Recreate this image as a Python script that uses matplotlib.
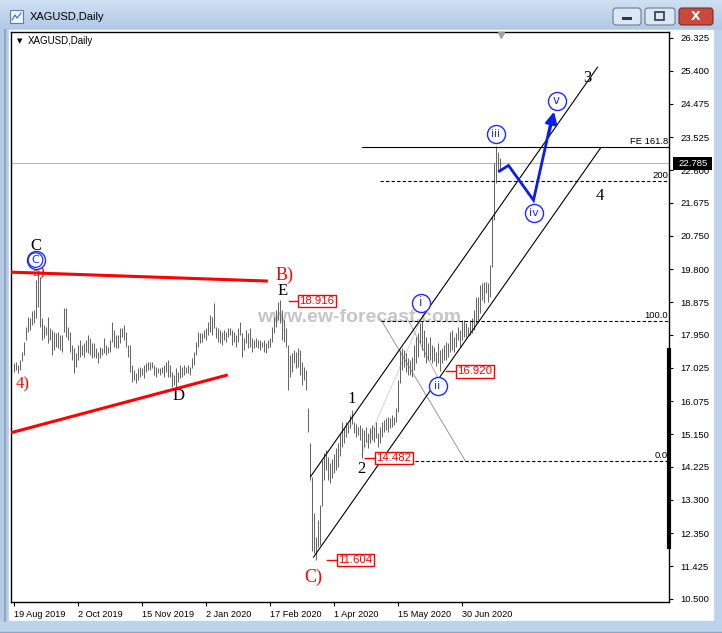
import matplotlib
matplotlib.use('Agg')
import matplotlib.pyplot as plt
import matplotlib.transforms as mtransforms
from matplotlib.patches import Rectangle, FancyBboxPatch
from matplotlib.colors import LinearSegmentedColormap
import numpy as np

# ---------------- data ----------------
date_labels = ['19 Aug 2019', '2 Oct 2019', '15 Nov 2019', '2 Jan 2020',
               '17 Feb 2020', '1 Apr 2020', '15 May 2020', '30 Jun 2020']
date_bar_index = [0, 32, 64, 96, 128, 160, 192, 224]

highs = [17.15, 17.19, 17.10, 17.24,
         17.48, 17.76, 18.18, 18.46, 18.42, 18.61, 18.65, 19.50, 19.69, 19.59,
         18.42, 18.23, 18.18, 18.46, 18.14, 18.09, 18.04, 17.99, 18.04, 17.95,
         17.95, 18.70, 18.70, 18.18, 18.04, 17.66, 17.57, 17.43, 17.66, 17.81,
         17.66, 17.71, 17.81, 17.95,
         17.85, 17.71, 17.71, 17.57, 17.48, 17.62, 17.57, 17.85, 17.66, 17.62,
         17.81, 18.32, 18.09, 17.95, 17.95, 18.14, 18.14, 18.23, 18.04, 17.66,
         17.66, 17.10, 16.96, 16.87, 17.01, 17.05, 17.01, 17.10, 17.15, 17.19,
         17.19, 17.19, 17.10, 17.05, 17.01, 17.01, 17.05, 17.10, 17.19, 17.24,
         17.10,
         16.91, 16.82, 17.01, 16.91, 17.10, 17.05, 17.10, 17.05, 17.10, 17.05,
         17.29, 17.48, 17.76, 18.04, 17.99, 17.99, 18.09, 18.14, 18.32, 18.51,
         18.46, 18.84, 18.18, 18.14, 18.09, 18.04, 18.09, 18.04, 18.14, 18.14,
         18.09, 18.04, 17.95, 18.14, 18.32, 17.99, 17.85, 18.09, 17.99, 18.14,
         17.85, 17.81, 17.85, 17.81, 17.81, 17.76, 17.81, 17.71, 17.81, 17.85,
         18.18, 18.46, 18.65, 18.89, 18.92, 18.65, 18.37, 18.14, 17.66, 17.38,
         17.43, 17.52, 17.48, 17.57, 17.52, 17.19, 17.05, 16.96, 15.88, 14.89,
         13.95, 12.92, 12.26, 12.73, 13.15, 14.42, 14.61, 14.70, 14.51, 14.33,
         14.45, 14.60,
         14.75, 14.89, 15.17, 15.50, 15.36, 15.50, 15.45, 15.69, 15.83, 15.50,
         15.45, 15.36, 15.41, 15.31, 15.27, 15.36, 15.17, 15.31, 15.41, 15.36,
         15.50, 15.17, 15.36, 15.50, 15.55, 15.60, 15.64, 15.60, 15.69, 15.64,
         15.88, 16.68, 17.52, 17.57, 17.52, 17.43, 17.29, 17.24,
         17.34, 17.67, 17.90, 17.99, 18.28, 18.35, 18.09, 17.90, 17.71, 17.90,
         17.67, 17.62, 17.48, 17.71, 17.53, 17.57, 17.67, 17.76, 17.71, 18.04,
         18.09, 17.90, 17.99, 18.18, 18.09, 18.37, 18.37, 18.28, 18.18, 18.37,
         18.42, 18.65, 19.03, 19.03, 19.36, 19.40, 19.45, 19.45, 19.40, 19.92,
         21.29, 22.79, 23.28, 23.12, 22.93]

lows = [16.91, 16.96, 16.87, 16.96,
        17.20, 17.38, 17.81, 18.04, 18.09, 18.23, 18.28, 18.42, 18.75, 18.18,
        17.81, 17.85, 17.95, 17.71, 17.81, 17.38, 17.52, 17.62, 17.57, 17.52,
        17.48, 18.04, 17.90, 17.81, 17.48, 17.24, 16.87, 17.05, 17.24, 17.34,
        17.38, 17.34, 17.48, 17.43,
        17.38, 17.29, 17.34, 17.29, 17.15, 17.29, 17.38, 17.43, 17.38, 17.43,
        17.48, 17.76, 17.62, 17.57, 17.57, 17.71, 17.90, 17.81, 17.62, 17.34,
        16.91, 16.63, 16.68, 16.58, 16.68, 16.77, 16.82, 16.72, 16.91, 16.96,
        16.96, 17.01, 16.82, 16.77, 16.87, 16.82, 16.87, 16.77, 16.91, 16.77,
        16.77,
        16.49, 16.54, 16.49, 16.63, 16.72, 16.77, 16.82, 16.87, 16.87, 16.82,
        17.01, 17.10, 17.38, 17.62, 17.71, 17.76, 17.85, 17.81, 17.95, 18.04,
        17.95, 18.14, 17.85, 17.76, 17.71, 17.66, 17.81, 17.76, 17.90, 17.95,
        17.66, 17.76, 17.62, 17.76, 17.95, 17.34, 17.52, 17.71, 17.57, 17.62,
        17.48, 17.57, 17.62, 17.57, 17.52, 17.62, 17.48, 17.43, 17.57, 17.62,
        17.76, 17.99, 18.18, 18.37, 18.28, 17.81, 17.76, 17.62, 16.40, 16.77,
        16.91, 17.15, 17.01, 17.05, 16.82, 16.54, 16.68, 16.40, 15.22, 13.86,
        11.84, 11.79, 11.60, 11.98, 12.02, 13.11, 13.86, 14.14, 13.86, 13.77,
        13.90, 14.05,
        14.14, 14.23, 14.52, 14.80, 14.89, 15.08, 15.17, 15.31, 15.45, 15.17,
        15.08, 15.13, 14.99, 14.48, 14.80, 14.94, 14.75, 14.89, 14.99, 14.94,
        15.03, 14.80, 14.89, 15.08, 15.22, 15.27, 15.22, 15.31, 15.36, 15.41,
        15.50, 15.78, 16.58, 16.96, 17.05, 16.91, 16.82, 16.82,
        16.77, 16.96, 17.15, 17.34, 17.71, 17.53, 17.34, 17.15, 17.24, 17.24,
        17.15, 17.20, 17.06, 17.15, 16.92, 17.15, 17.24, 17.24, 17.34, 17.48,
        17.53, 17.48, 17.62, 17.81, 17.62, 17.81, 17.90, 17.90, 17.95, 17.95,
        17.99, 18.09, 18.28, 18.37, 18.56, 18.93, 18.84, 19.12, 18.89, 19.03,
        19.87, 21.19, 22.23, 22.55, 22.60]

last_price = 22.785
price_ticks = [26.325, 25.400, 24.475, 23.525, 22.600, 21.675, 20.750, 19.800,
               18.875, 17.950, 17.025, 16.075, 15.150, 14.225, 13.300, 12.350,
               11.425, 10.500]
fib_names = ['FE 161.8', '200', '100.0', '0.0']
fib_prices = [23.25, 22.29, 18.35, 14.40]
fib_start = [174, 183, 183.5, 181]
marked_lows_highs = [18.916, 11.604, 14.482, 16.920]

# ---------------- figure / window chrome ----------------
W, H = 722, 633
fig = plt.figure(figsize=(W / 100, H / 100), dpi=100)
fig.patch.set_facecolor('#bcd3ec')

bg = fig.add_axes([0, 0, 1, 1], zorder=-10)
grad = np.linspace(0, 1, 64)[:, None]
cm = LinearSegmentedColormap.from_list('t', ['#cfe0f3', '#b0c9e6'])
bg.imshow(grad, extent=[0, W, 30, 0], cmap=cm, aspect='auto')
bg.add_patch(Rectangle((0, 30), W, H - 30, color='#bcd3ec'))
bg.add_patch(Rectangle((0, 30), 9, H - 30, color='#b4cbe6'))
bg.plot([4.5, 4.5], [30, 621], color='#8fa6c4', lw=1.5)
bg.add_patch(Rectangle((9, 30), 704, 591, color='white'))
bg.add_patch(Rectangle((0, 621), W, 12, color='#bcd3ec'))
bg.plot([0, W], [632, 632], color='#8fa6c4', lw=1)
# icon
bg.add_patch(Rectangle((10, 10), 13, 13, fc='#eef4fb', ec='#5b80ad', lw=0.8))
bg.plot([12, 15, 17, 21], [20, 15, 18, 13], color='#3a6fb0', lw=0.8)
bg.text(30, 17, 'XAGUSD,Daily', fontsize=8, family='Liberation Sans', va='center', ha='left', color='black')
# buttons
bg.add_patch(FancyBboxPatch((613, 8), 28, 17, boxstyle='round,pad=0,rounding_size=3',
                            fc='#dce7f4', ec='#6d7d92', lw=0.8))
bg.add_patch(Rectangle((622, 17), 10, 2.5, fc='#2b3a4c', ec='none'))
bg.add_patch(FancyBboxPatch((645, 8), 30, 17, boxstyle='round,pad=0,rounding_size=3',
                            fc='#dce7f4', ec='#6d7d92', lw=0.8))
bg.add_patch(Rectangle((655, 12), 9, 8, fc='none', ec='#2b3a4c', lw=1.2))
bg.add_patch(FancyBboxPatch((679, 8), 34, 17, boxstyle='round,pad=0,rounding_size=3',
                            fc='#c9493d', ec='#7d2a22', lw=0.8))
bg.text(696, 16.5, 'X', fontsize=9, fontweight='bold', color='white', ha='center', va='center',
        family='DejaVu Sans')
bg.set_xlim(0, W)
bg.set_ylim(H, 0)
bg.axis('off')

# ---------------- main chart ----------------
ax = fig.add_axes([11 / W, 1 - 602 / H, 658 / W, 570 / H])
ax.set_facecolor('none')
ax.set_xlim(-1.25, 327.75)
ax.set_ylim(10.415, 26.494)

idx = np.arange(len(highs))
ax.vlines(idx, lows, highs, color='#666666', lw=0.75, antialiased=True, zorder=2)

# current price line
ax.axhline(last_price, color='#b8b8b8', lw=0.8, zorder=1)

# watermark
ax.text(173, 18.45, 'www.ew-forecast.com', fontsize=14, fontweight='bold', family='Liberation Sans',
        color='#c6c6c6', ha='center', va='center', zorder=0.5)

# triangle (red)
ax.plot([-1.25, 126.4], [19.72, 19.47], color='#ff0000', lw=2.2, zorder=3)
ax.plot([-1.25, 106.4], [15.19, 16.81], color='#ff0000', lw=2.2, zorder=3)

# channel lines
ax.plot([148.5, 292], [13.95, 25.50], color='black', lw=0.8, zorder=3)
ax.plot([150, 293.5], [11.68, 23.22], color='black', lw=0.8, zorder=3)

# fib / extension levels
for name, p, s in zip(fib_names, fib_prices, fib_start):
    ls = '-' if name.startswith('FE') else (0, (3, 2))
    ax.plot([s, 328], [p, p], color='black', lw=0.8, ls=ls, zorder=3)
    ax.text(327.3, p + 0.03, name, fontsize=6.8, family='Liberation Sans', ha='right', va='bottom',
            color='black', zorder=4)

# gray retracement helper lines
ax.plot([183.5, 226], [18.40, 14.39], color='#9a9a9a', lw=0.7, zorder=1.5)
ax.plot([174, 203.5], [14.56, 18.37], color='#d4d4d4', lw=0.7, zorder=1.5)
ax.plot([197.5, 213.5], [18.35, 16.60], color='#b0b0b0', lw=0.7, zorder=1.5)

# blue projected path
ax.plot([243, 247.5, 260, 268.7], [22.57, 22.73, 21.75, 23.95], color='#0a1cf0', lw=2.0,
        solid_joinstyle='miter', zorder=5)
ax.annotate('', xy=(270.3, 24.25), xytext=(267.4, 23.55),
            arrowprops=dict(arrowstyle='-|>,head_length=0.7,head_width=0.35', color='#0a1cf0', lw=2.0,
                            shrinkA=0, shrinkB=0), zorder=5)

# serif wave labels
def lab(x, y, s, color='black', fs=12):
    ax.text(x, y, s, fontsize=fs, family='Liberation Serif', color=color, ha='center', va='center',
            zorder=6, clip_on=False)

lab(11, 20.46, 'C')
lab(12.5, 19.72, '5)', color='#ff0000', fs=11)
lab(4.5, 16.54, '4)', color='#ff0000', fs=12)
lab(82.5, 16.23, 'D')
lab(135.5, 19.64, 'B)', color='#ff0000', fs=13)
lab(134.5, 19.18, 'E')
lab(150, 11.12, 'C)', color='#ff0000', fs=13)
lab(169, 16.14, '1')
lab(174, 14.17, '2')
lab(287, 25.20, '3')
lab(293, 21.86, '4')

# circled labels
def circ(x, y, s, fs=8.5, double=False):
    ax.scatter([x], [y], s=13 ** 2, facecolor='white', edgecolor='#1a2cff', lw=1.0, zorder=6)
    if double:
        ax.scatter([x], [y], s=10.5 ** 2, facecolor='none', edgecolor='#1a2cff', lw=0.9, zorder=6)
    ax.text(x, y, s, fontsize=fs, family='DejaVu Sans', color='#1a2cff', ha='center', va='center',
            zorder=7)

circ(11, 20.06, 'C', fs=8, double=True)
circ(203.5, 18.85, 'i')
circ(212, 16.52, 'ii', fs=8)
circ(241, 23.62, 'iii', fs=7.5)
circ(260, 21.39, 'iv', fs=8)
circ(271.5, 24.55, 'v')

# red price boxes with leader lines
box_x = [(137.5, 142.5), (156.5, 162.0), (175.5, 181.0), (216.0, 221.5)]
for (xa, xb), p in zip(box_x, marked_lows_highs):
    ax.plot([xa, xb], [p, p], color='#ff0000', lw=1.0, zorder=6)
    ax.text(xb + 0.5, p, f'{p:.3f}', fontsize=8.2, family='Liberation Sans', color='#ff0000',
            ha='left', va='center', zorder=7,
            bbox=dict(boxstyle='square,pad=0.1', fc='white', ec='#ff0000', lw=1.0))

# axis styling
for sp in ax.spines.values():
    sp.set_color('black')
    sp.set_linewidth(1.0)
ax.yaxis.tick_right()
ax.set_yticks(price_ticks)
ax.set_yticklabels([f'{v:.3f}' for v in price_ticks])
ax.tick_params(axis='y', which='both', right=True, left=False, direction='out', length=3,
               width=0.8, pad=5, labelsize=6.8)
ax.set_xticks(date_bar_index)
ax.set_xticklabels(date_labels)
ax.tick_params(axis='x', direction='out', length=3, width=0.8, pad=2.5, labelsize=6.6)
for t in ax.get_xticklabels():
    t.set_ha('left')
    t.set_family('Liberation Sans')
for t in ax.get_yticklabels():
    t.set_family('Liberation Sans')

# right-axis marks
blend = mtransforms.blended_transform_factory(ax.transAxes, ax.transData)
ax.plot([1.0, 1.0], [17.52, 11.97], transform=blend, color='black', lw=3, clip_on=False, zorder=6)
ax.add_patch(Rectangle((1.006, last_price - 0.17), 0.059, 0.34, transform=blend, fc='black',
                       ec='none', clip_on=False, zorder=8))
ax.text(1.0137, last_price, f'{last_price:.3f}', transform=blend, fontsize=6.8, family='Liberation Sans',
        color='white', ha='left', va='center', zorder=9, clip_on=False)

# top-left caption and shift marker
ax.text(0.009, 0.984, '\u25BC', transform=ax.transAxes, fontsize=5, family='DejaVu Sans',
        ha='left', va='center', color='black')
ax.text(0.025, 0.984, 'XAGUSD,Daily', transform=ax.transAxes, fontsize=7, family='Liberation Sans',
        ha='left', va='center', color='black')
ax.plot([243.5], [26.40], marker='v', color='#a0a0a0', markersize=5, clip_on=False, zorder=8)

fig.savefig('out.png', dpi=100, facecolor=fig.get_facecolor())
